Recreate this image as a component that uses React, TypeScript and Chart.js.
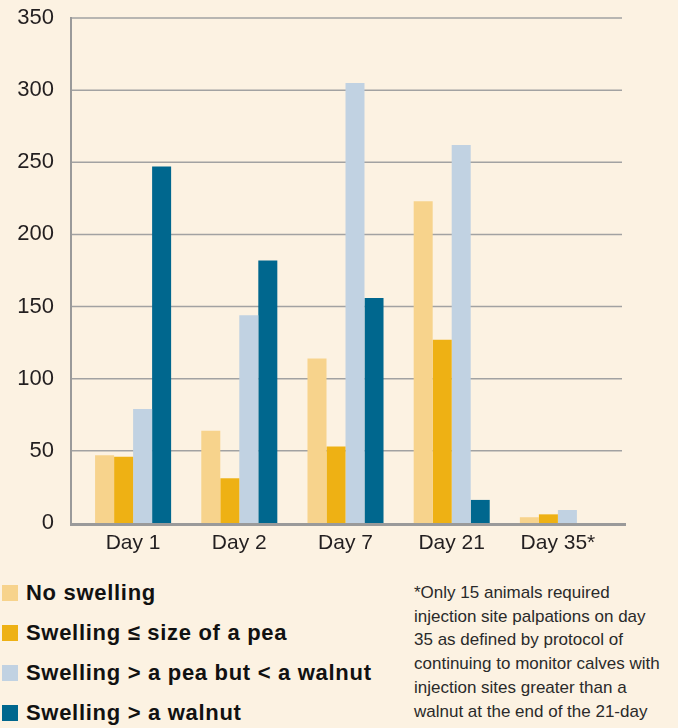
import React, { useEffect, useRef } from "react";
import { Chart, registerables } from "chart.js";

Chart.register(...registerables);

const categories = ["Day 1", "Day 2", "Day 7", "Day 21", "Day 35*"];
const seriesLabels = [
  "No swelling",
  "Swelling ≤ size of a pea",
  "Swelling > a pea but < a walnut",
  "Swelling > a walnut",
];
const seriesColors = ["#f7d38c", "#eeb114", "#c1d2e2", "#00678e"];
const noSwelling = [47, 64, 114, 223, 4];
const peaSize = [46, 31, 53, 127, 6];
const peaToWalnut = [79, 144, 305, 262, 9];
const overWalnut = [247, 182, 156, 16, 0];
const yTicks = [0, 50, 100, 150, 200, 250, 300, 350];
const footnoteLines = [
  "*Only 15 animals required",
  "injection site palpations on day",
  "35 as defined by protocol of",
  "continuing to monitor calves with",
  "injection sites greater than a",
  "walnut at the end of the 21-day",
];

const BG = "#fcf2e2";
const FONT = "'Liberation Sans', Arial, sans-serif";

const axisPlugin = {
  id: "customAxes",
  beforeDatasetsDraw(chart: any) {
    const { ctx, chartArea, scales } = chart;
    const y = scales.y;
    ctx.save();
    ctx.strokeStyle = "#a2a2a2";
    ctx.lineWidth = 1.5;
    yTicks.forEach((v) => {
      if (v === 0) return;
      const py = y.getPixelForValue(v);
      ctx.beginPath();
      ctx.moveTo(chartArea.left - 10, py);
      ctx.lineTo(chartArea.right + 11, py);
      ctx.stroke();
    });
    ctx.restore();
  },
  afterDatasetsDraw(chart: any) {
    const { ctx, chartArea, scales } = chart;
    const y = scales.y;
    const top = y.getPixelForValue(350);
    const zero = y.getPixelForValue(0);
    ctx.save();
    ctx.strokeStyle = "#9a9a9a";
    ctx.lineWidth = 2;
    ctx.beginPath();
    ctx.moveTo(chartArea.left - 9, top - 1);
    ctx.lineTo(chartArea.left - 9, zero + 3);
    ctx.stroke();
    ctx.lineWidth = 3;
    ctx.beginPath();
    ctx.moveTo(chartArea.left - 10, zero + 1.5);
    ctx.lineTo(chartArea.right + 15, zero + 1.5);
    ctx.stroke();
    ctx.restore();
  },
};

export default function App() {
  const ref = useRef<HTMLCanvasElement>(null);

  useEffect(() => {
    document.body.style.margin = "0";
    document.body.style.background = BG;
    const series = [noSwelling, peaSize, peaToWalnut, overWalnut];
    const chart = new Chart(ref.current!, {
      type: "bar",
      data: {
        labels: categories,
        datasets: series.map((d, i) => ({
          label: seriesLabels[i],
          data: d,
          backgroundColor: seriesColors[i],
          borderWidth: 0,
          categoryPercentage: 0.716,
          barPercentage: 1.0,
        })),
      },
      options: {
        responsive: false,
        animation: false,
        layout: { padding: { top: 18, right: 67, bottom: 0, left: 0 } },
        plugins: {
          legend: { display: false },
          tooltip: { enabled: false },
        },
        scales: {
          x: {
            offset: true,
            grid: { display: false, drawTicks: false },
            border: { display: false },
            ticks: {
              color: "#231f20",
              font: { family: FONT, size: 21 },
              padding: 8,
            },
            afterFit(scale: any) {
              scale.height = 37;
            },
          },
          y: {
            min: 0,
            max: 350,
            grid: { display: false, drawTicks: true, tickLength: 26 },
            border: { display: false },
            ticks: {
              stepSize: 50,
              color: "#231f20",
              font: { family: FONT, size: 22 },
              padding: 0,
            },
            afterFit(scale: any) {
              scale.width = 80;
            },
          },
        },
      },
      plugins: [axisPlugin],
    });
    return () => chart.destroy();
  }, []);

  return (
    <div
      style={{
        position: "relative",
        width: 678,
        height: 728,
        background: BG,
        overflow: "hidden",
        fontFamily: FONT,
      }}
    >
      <canvas ref={ref} width={678} height={560} style={{ display: "block" }} />
      <div style={{ position: "absolute", left: 0, top: 573 }}>
        {seriesLabels.map((label, i) => (
          <div
            key={label}
            style={{
              display: "flex",
              alignItems: "center",
              height: 40,
              whiteSpace: "nowrap",
            }}
          >
            <span
              style={{
                display: "inline-block",
                width: 16,
                height: 16,
                marginLeft: 2,
                marginRight: 8,
                background: seriesColors[i],
              }}
            />
            <span
              style={{
                fontWeight: "bold",
                fontSize: 22,
                color: "#111",
                letterSpacing: 0.7,
              }}
            >
              {label}
            </span>
          </div>
        ))}
      </div>
      <div
        style={{
          position: "absolute",
          left: 414,
          top: 581,
          fontSize: 17,
          lineHeight: "23.7px",
          color: "#2a2a2a",
          whiteSpace: "nowrap",
        }}
      >
        {footnoteLines.map((l) => (
          <div key={l}>{l}</div>
        ))}
      </div>
    </div>
  );
}
